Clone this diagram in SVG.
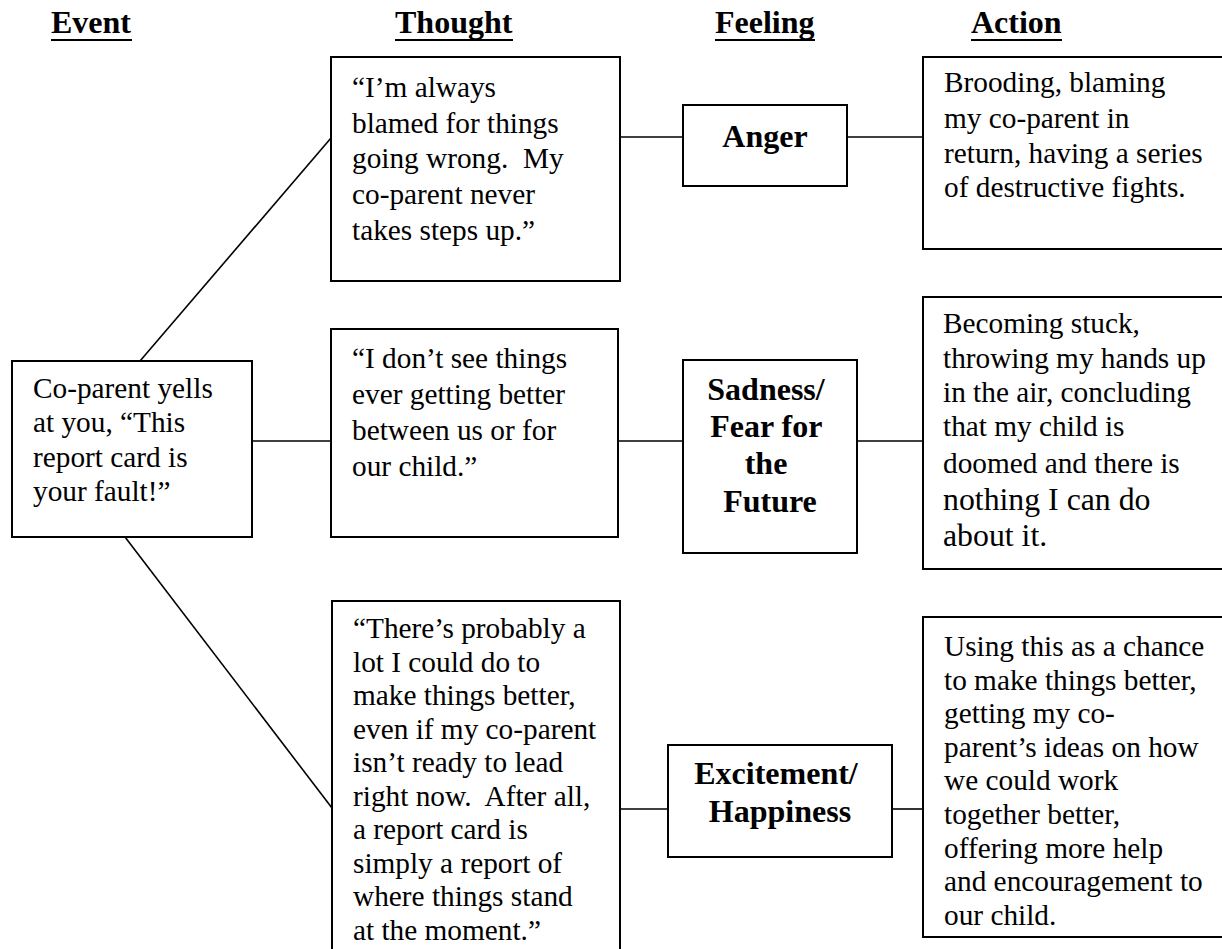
<svg xmlns="http://www.w3.org/2000/svg" width="1222" height="949" viewBox="0 0 1222 949">
<style>
  .box { fill: #ffffff; stroke: #000000; stroke-width: 2; }
  .conn line { stroke: #000000; stroke-width: 1.6; }
  .hdr { font-family: "Liberation Serif", "Times New Roman", serif; font-weight: bold; font-size: 32px; fill: #000; }
  .ul { stroke: #000; stroke-width: 2; }
  .body { font-family: "Liberation Serif", "Times New Roman", serif; font-size: 29.3px; fill: #000; }
  .big { font-size: 31.8px; }
  .feel { font-family: "Liberation Serif", "Times New Roman", serif; font-weight: bold; font-size: 32px; fill: #000; text-anchor: middle; }
</style>
<rect x="0" y="0" width="1222" height="949" fill="#ffffff"/>

<g id="headers">
  <text class="hdr" x="51" y="33">Event</text>
  <line class="ul" x1="51" y1="40" x2="132" y2="40"/>
  <text class="hdr" x="395" y="33">Thought</text>
  <line class="ul" x1="395" y1="40" x2="513" y2="40"/>
  <text class="hdr" x="715" y="33">Feeling</text>
  <line class="ul" x1="715" y1="40" x2="815" y2="40"/>
  <text class="hdr" x="971" y="33">Action</text>
  <line class="ul" x1="971" y1="40" x2="1062" y2="40"/>
</g>

<g id="connectors" class="conn">
  <line x1="140" y1="361" x2="331" y2="138"/>
  <line x1="252" y1="441" x2="331" y2="441"/>
  <line x1="125" y1="537" x2="332" y2="808"/>
  <line x1="620" y1="137" x2="683" y2="137"/>
  <line x1="847" y1="137" x2="923" y2="137"/>
  <line x1="618" y1="441" x2="683" y2="441"/>
  <line x1="857" y1="441" x2="923" y2="441"/>
  <line x1="620" y1="809" x2="668" y2="809"/>
  <line x1="892" y1="809" x2="923" y2="809"/>
</g>

<g id="event">
  <rect class="box" x="12" y="361" width="240" height="176"/>
  <text class="body" x="33">
    <tspan x="33" y="398">Co-parent yells</tspan>
    <tspan x="33" y="432">at you, “This</tspan>
    <tspan x="33" y="467">report card is</tspan>
    <tspan x="33" y="501">your fault!”</tspan>
  </text>
</g>

<g id="thought1">
  <rect class="box" x="331" y="57" width="289" height="224"/>
  <text class="body" xml:space="preserve">
    <tspan x="352" y="97">“I’m always</tspan>
    <tspan x="352" y="133">blamed for things</tspan>
    <tspan x="352" y="168">going wrong.  My</tspan>
    <tspan x="352" y="204">co-parent never</tspan>
    <tspan x="352" y="240">takes steps up.”</tspan>
  </text>
</g>

<g id="thought2">
  <rect class="box" x="331" y="329" width="287" height="208"/>
  <text class="body">
    <tspan x="352" y="368">“I don’t see things</tspan>
    <tspan x="352" y="404">ever getting better</tspan>
    <tspan x="352" y="440">between us or for</tspan>
    <tspan x="352" y="476">our child.”</tspan>
  </text>
</g>

<g id="thought3">
  <rect class="box" x="332" y="601" width="288" height="370"/>
  <text class="body" xml:space="preserve">
    <tspan x="353" y="638">“There’s probably a</tspan>
    <tspan x="353" y="671.5">lot I could do to</tspan>
    <tspan x="353" y="705">make things better,</tspan>
    <tspan x="353" y="738.5">even if my co-parent</tspan>
    <tspan x="353" y="772">isn’t ready to lead</tspan>
    <tspan x="353" y="805.5">right now.  After all,</tspan>
    <tspan x="353" y="839">a report card is</tspan>
    <tspan x="353" y="872.5">simply a report of</tspan>
    <tspan x="353" y="906">where things stand</tspan>
    <tspan x="353" y="940">at the moment.”</tspan>
  </text>
</g>

<g id="anger">
  <rect class="box" x="683" y="105" width="164" height="81"/>
  <text class="feel" x="765" y="147">Anger</text>
</g>

<g id="sadness">
  <rect class="box" x="683" y="360" width="174" height="193"/>
  <text class="feel">
    <tspan x="770" y="400">Sadness/</tspan>
    <tspan x="770" y="437">Fear for</tspan>
    <tspan x="770" y="474">the</tspan>
    <tspan x="770" y="512">Future</tspan>
  </text>
</g>

<g id="excitement">
  <rect class="box" x="668" y="745" width="224" height="112"/>
  <text class="feel">
    <tspan x="780" y="784">Excitement/</tspan>
    <tspan x="780" y="822">Happiness</tspan>
  </text>
</g>

<g id="action1">
  <rect class="box" x="923" y="57" width="320" height="192"/>
  <text class="body">
    <tspan x="944" y="92">Brooding, blaming</tspan>
    <tspan x="944" y="128">my co-parent in</tspan>
    <tspan x="944" y="163">return, having a series</tspan>
    <tspan x="944" y="197">of destructive fights.</tspan>
  </text>
</g>

<g id="action2">
  <rect class="box" x="923" y="297" width="320" height="272"/>
  <text class="body">
    <tspan x="943" y="333">Becoming stuck,</tspan>
    <tspan x="943" y="368">throwing my hands up</tspan>
    <tspan x="943" y="402">in the air, concluding</tspan>
    <tspan x="943" y="436">that my child is</tspan>
    <tspan x="943" y="473">doomed and there is</tspan>
    <tspan x="943" y="510" class="big">nothing I can do</tspan>
    <tspan x="943" y="546" class="big">about it.</tspan>
  </text>
</g>

<g id="action3">
  <rect class="box" x="923" y="617" width="320" height="320"/>
  <text class="body">
    <tspan x="944" y="656">Using this as a chance</tspan>
    <tspan x="944" y="689.6">to make things better,</tspan>
    <tspan x="944" y="723.2">getting my co-</tspan>
    <tspan x="944" y="756.8">parent’s ideas on how</tspan>
    <tspan x="944" y="790.4">we could work</tspan>
    <tspan x="944" y="824">together better,</tspan>
    <tspan x="944" y="857.6">offering more help</tspan>
    <tspan x="944" y="891.2">and encouragement to</tspan>
    <tspan x="944" y="924.8">our child.</tspan>
  </text>
</g>
</svg>
